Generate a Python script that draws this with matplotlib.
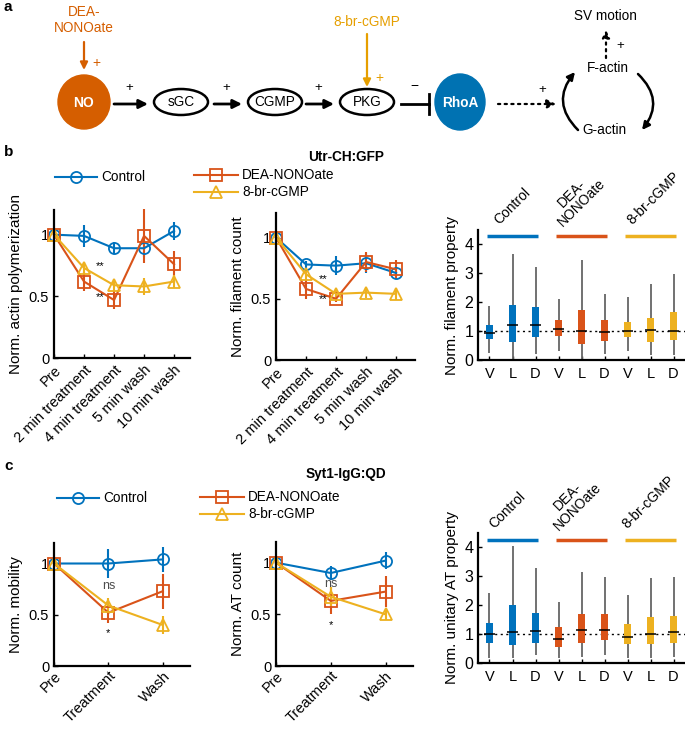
import numpy as np
import matplotlib
matplotlib.use("Agg")
import matplotlib.pyplot as plt
from matplotlib.patches import Ellipse

# =========================
# Data
# =========================
time_b = ["Pre", "2 min treatment", "4 min treatment", "5 min wash", "10 min wash"]
time_c = ["Pre", "Treatment", "Wash"]

# b, left: actin polymerization
actin_ctrl = [1.0, 0.99, 0.89, 0.89, 1.03]
actin_ctrl_err = [0.0, 0.09, 0.05, 0.07, 0.07]
actin_dea = [1.0, 0.62, 0.47, 0.99, 0.76]
actin_dea_err = [0.0, 0.075, 0.07, 0.22, 0.11]
actin_cgmp = [1.0, 0.73, 0.59, 0.58, 0.62]
actin_cgmp_err = [0.0, 0.05, 0.05, 0.07, 0.05]

# b, middle: filament count
fil_ctrl = [1.0, 0.78, 0.77, 0.79, 0.71]
fil_ctrl_err = [0.0, 0.03, 0.08, 0.08, 0.05]
fil_dea = [1.0, 0.58, 0.50, 0.80, 0.74]
fil_dea_err = [0.0, 0.08, 0.03, 0.08, 0.08]
fil_cgmp = [1.0, 0.70, 0.54, 0.55, 0.54]
fil_cgmp_err = [0.0, 0.05, 0.03, 0.04, 0.05]

# c, left: mobility
mob_ctrl = [1.0, 1.0, 1.04]
mob_ctrl_err = [0.0, 0.14, 0.12]
mob_dea = [1.0, 0.52, 0.73]
mob_dea_err = [0.0, 0.10, 0.17]
mob_cgmp = [1.0, 0.59, 0.40]
mob_cgmp_err = [0.0, 0.07, 0.09]

# c, middle: AT count
at_ctrl = [1.0, 0.90, 1.02]
at_ctrl_err = [0.0, 0.07, 0.08]
at_dea = [1.0, 0.63, 0.72]
at_dea_err = [0.0, 0.13, 0.15]
at_cgmp = [1.0, 0.67, 0.50]
at_cgmp_err = [0.0, 0.09, 0.05]

# box plots: whisker low, q1, median, q3, whisker high  (V, L, D per group)
box_labels = ["V", "L", "D"] * 3
groups = ["Control", "DEA-\nNONOate", "8-br-cGMP"]
fil_lo = [0.27, 0.03, 0.23, 0.34, 0.05, 0.23, 0.34, 0.19, 0.19]
fil_q1 = [0.75, 0.65, 0.82, 0.83, 0.58, 0.67, 0.80, 0.65, 0.71]
fil_med = [0.95, 1.23, 1.24, 1.08, 1.03, 0.99, 1.01, 1.06, 1.02]
fil_q3 = [1.21, 1.90, 1.83, 1.40, 1.75, 1.40, 1.33, 1.45, 1.66]
fil_hi = [1.89, 3.68, 3.23, 2.12, 3.48, 2.29, 2.20, 2.63, 2.97]

at_lo = [0.15, 0.15, 0.27, 0.16, 0.20, 0.25, 0.15, 0.15, 0.20]
at_q1 = [0.69, 0.61, 0.69, 0.56, 0.67, 0.78, 0.65, 0.64, 0.69]
at_med = [0.98, 1.05, 1.09, 0.81, 1.15, 1.15, 0.90, 1.00, 1.07]
at_q3 = [1.39, 2.00, 1.74, 1.24, 1.68, 1.68, 1.33, 1.60, 1.63]
at_hi = [2.43, 4.05, 3.30, 2.10, 3.14, 2.99, 2.35, 2.95, 2.99]

BLUE = "#0072BD"
ORANGE = "#D95319"
YELLOW = "#EDB120"
colors = [BLUE, ORANGE, YELLOW]

W, H = 685, 729
fig = plt.figure(figsize=(W / 100, H / 100), dpi=100)
plt.rcParams["font.family"] = ["Liberation Sans", "DejaVu Sans"]


def add_ax(left, top, right, bottom):
    return fig.add_axes([left / W, 1 - bottom / H, (right - left) / W, (bottom - top) / H])


def style_ax(ax):
    for s in ["top", "right"]:
        ax.spines[s].set_visible(False)
    for s in ["left", "bottom"]:
        ax.spines[s].set_linewidth(1.6)
    ax.tick_params(direction="in", length=3, width=1, labelsize=10.5)
    ax.patch.set_alpha(0)


def line_panel(ax, labels, series, ylabel, xfont=9.5):
    x = np.arange(len(labels))
    for (y, e), c, m in zip(series, colors, ["o", "s", "^"]):
        ax.errorbar(x, y, yerr=e, color=c, marker=m, ms=8, mfc="none", mew=1.3,
                    lw=1.5, elinewidth=1.5, capsize=0, clip_on=False)
    ax.set_ylim(0, 1.2)
    ax.set_yticks([0, 0.5, 1])
    ax.set_yticklabels(["0", "0.5", "1"])
    ax.set_xticks(x)
    ax.set_xticklabels(labels, rotation=45, ha="right", rotation_mode="anchor", fontsize=xfont)
    ax.set_ylabel(ylabel, fontsize=11)
    style_ax(ax)


def box_panel(ax, lo, q1, med, q3, hi, ylabel, line_y, text_pos):
    pos = np.arange(1, 10)
    cols = [c for c in colors for _ in range(3)]
    ax.axhline(1, ls=(0, (1.5, 2.5)), color="k", lw=1, zorder=1)
    ax.vlines(pos, lo, hi, color="0.4", lw=1.3, zorder=2)
    ax.bar(pos, np.array(q3) - np.array(q1), bottom=q1, width=0.32, color=cols, zorder=3)
    ax.hlines(med, pos - 0.25, pos + 0.25, color="k", lw=1.1, zorder=4)
    for g, (name, c) in enumerate(zip(groups, colors)):
        ax.plot([0.88 + 3 * g, 3.12 + 3 * g], [line_y, line_y], color=c, lw=2.5,
                solid_capstyle="butt", clip_on=False)
        ax.text(text_pos[g][0], text_pos[g][1], name, rotation=45, rotation_mode="anchor",
                ha="left", va="bottom", fontsize=10, multialignment="center", linespacing=1.0)
    ax.set_xlim(0.5, 9.5)
    ax.set_ylim(0, 4.5)
    ax.set_yticks([0, 1, 2, 3, 4])
    ax.set_xticks(pos)
    ax.set_xticklabels(box_labels, fontsize=11.5)
    ax.set_ylabel(ylabel, fontsize=11)
    style_ax(ax)
    ax.tick_params(axis="y", labelsize=11.5)
    ax.tick_params(axis="x", length=3, pad=5)


# =========================
# Panel b
# =========================
ax1 = add_ax(54, 210, 190, 358)
line_panel(ax1, time_b, [(actin_ctrl, actin_ctrl_err), (actin_dea, actin_dea_err),
                         (actin_cgmp, actin_cgmp_err)], "Norm. actin polymerization")
ax1.set_xlim(0, 4.53)
ax1.text(1.4, 0.72, "**", fontsize=8)
ax1.text(1.4, 0.47, "**", fontsize=8)

ax2 = add_ax(276, 213, 415, 360)
line_panel(ax2, time_b, [(fil_ctrl, fil_ctrl_err), (fil_dea, fil_dea_err),
                         (fil_cgmp, fil_cgmp_err)], "Norm. filament count")
ax2.set_xlim(0, 4.63)
ax2.text(1.42, 0.64, "**", fontsize=8)
ax2.text(1.42, 0.47, "**", fontsize=8)

ax3 = add_ax(478, 230, 685, 360.5)
box_panel(ax3, fil_lo, fil_q1, fil_med, fil_q3, fil_hi, "Norm. filament property",
          4.3, [(1.52, 4.59), (4.28, 4.52), (7.29, 4.59)])

# =========================
# Panel c
# =========================
ax4 = add_ax(54, 543, 190, 666)
line_panel(ax4, time_c, [(mob_ctrl, mob_ctrl_err), (mob_dea, mob_dea_err),
                         (mob_cgmp, mob_cgmp_err)], "Norm. mobility", xfont=9)
ax4.set_xlim(0, 2.5)
ax4.tick_params(axis="x", pad=2)
ax4.text(1, 0.75, "ns", fontsize=9, ha="center", color="0.3")
ax4.text(1, 0.29, "*", fontsize=8, ha="center")

ax5 = add_ax(276, 542, 413, 666)
line_panel(ax5, time_c, [(at_ctrl, at_ctrl_err), (at_dea, at_dea_err),
                         (at_cgmp, at_cgmp_err)], "Norm. AT count", xfont=9)
ax5.set_xlim(0, 2.5)
ax5.tick_params(axis="x", pad=2)
ax5.text(1, 0.76, "ns", fontsize=9, ha="center", color="0.3")
ax5.text(1, 0.37, "*", fontsize=8, ha="center")

ax6 = add_ax(478, 533, 685, 662.7)
box_panel(ax6, at_lo, at_q1, at_med, at_q3, at_hi, "Norm. unitary AT property",
          4.26, [(1.29, 4.55), (4.13, 4.49), (7.08, 4.55)])

# =========================
# Overlay: panel a diagram, legends, titles, panel letters (pixel coords)
# =========================
ov = fig.add_axes([0, 0, 1, 1])
ov.set_xlim(0, W)
ov.set_ylim(H, 0)
ov.axis("off")
ov.patch.set_alpha(0)

for letter, (lx, ly) in zip("abc", [(4, 7), (4, 152), (4, 466)]):
    ov.text(lx, ly, letter, fontsize=11, fontweight="bold", va="center")

# legends
for ly, lx0, title_y, title in [(177, 55, 157, "Utr-CH:GFP"), (498, 57, 474, "Syt1-IgG:QD")]:
    ov.plot([lx0, lx0 + 42], [ly, ly], color=BLUE, lw=1.5)
    ov.plot([lx0 + 21], [ly], marker="o", ms=8, mfc="none", mec=BLUE, mew=1.3)
    ov.text(lx0 + 46, ly, "Control", va="center", fontsize=9.8)
    ov.text(346, title_y, title, ha="center", va="center", fontsize=9.8, fontweight="bold")
for ly, lx0, name, c, m in [(175, 194, "DEA-NONOate", ORANGE, "s"), (192, 194, "8-br-cGMP", YELLOW, "^"),
                            (497, 200, "DEA-NONOate", ORANGE, "s"), (514, 200, "8-br-cGMP", YELLOW, "^")]:
    ov.plot([lx0, lx0 + 44], [ly, ly], color=c, lw=1.5)
    ov.plot([lx0 + 22], [ly], marker=m, ms=8, mfc="none", mec=c, mew=1.3)
    ov.text(lx0 + 48, ly, name, va="center", fontsize=9.8)

# panel a diagram
NO_C = "#D55E00"
RHO_C = "#0072B2"
CG_C = "#E69F00"
ROW = 102
arrow_kw = dict(arrowstyle="-|>", lw=2, color="k", mutation_scale=13, shrinkA=0, shrinkB=0)

ov.add_patch(Ellipse((84, ROW), 52, 54, color=NO_C))
ov.text(84, ROW + 1, "NO", color="white", fontweight="bold", ha="center", va="center", fontsize=10)
ov.text(84, 20, "DEA-\nNONOate", color=NO_C, ha="center", va="center", fontsize=9.8, linespacing=1.1)
ov.annotate("", xy=(84, 70), xytext=(84, 42),
            arrowprops=dict(arrowstyle="-|>", lw=1.6, color=NO_C, mutation_scale=11, shrinkA=0, shrinkB=0))
ov.text(96, 63, "+", color=NO_C, fontsize=10, ha="center", va="center")

for cx, name in [(181, "sGC"), (275, "CGMP"), (367, "PKG")]:
    ov.add_patch(Ellipse((cx, ROW), 54, 26, fill=False, lw=1.8, ec="k"))
    ov.text(cx, ROW, name, ha="center", va="center", fontsize=9.8)

for x0, x1 in [(114, 148), (214, 242), (306, 334)]:
    ov.annotate("", xy=(x1, ROW + 2), xytext=(x0, ROW + 2), arrowprops=arrow_kw)
    ov.text((x0 + x1) / 2 - 2, ROW - 14, "+", fontsize=9.5, ha="center", va="center")

ov.text(367, 22, "8-br-cGMP", color=CG_C, ha="center", va="center", fontsize=9.8)
ov.annotate("", xy=(367, ROW - 15), xytext=(367, 34),
            arrowprops=dict(arrowstyle="-|>", lw=1.6, color=CG_C, mutation_scale=11, shrinkA=0, shrinkB=0))
ov.text(379, ROW - 24, "+", color=CG_C, fontsize=10, ha="center", va="center")

ov.plot([401, 429], [ROW + 2, ROW + 2], color="k", lw=2)
ov.plot([429, 429], [ROW - 8, ROW + 12], color="k", lw=2)
ov.text(414, ROW - 16, "\u2212", fontsize=10, ha="center", va="center")

ov.add_patch(Ellipse((460, ROW), 50, 56, color=RHO_C))
ov.text(460, ROW + 1, "RhoA", color="white", fontweight="bold", ha="center", va="center", fontsize=9.8)

ov.annotate("", xy=(556, ROW + 2), xytext=(498, ROW + 2),
            arrowprops=dict(arrowstyle="-|>", lw=1.6, color="k", ls=(0, (1, 2)),
                            mutation_scale=13, shrinkA=0, shrinkB=0))
ov.text(542, ROW - 12, "+", fontsize=9.5, ha="center", va="center")

ov.text(608, 68, "F-actin", ha="center", va="center", fontsize=9.8)
ov.text(604, 130, "G-actin", ha="center", va="center", fontsize=9.8)
ov.text(605, 16, "SV motion", ha="center", va="center", fontsize=9.8)
ov.annotate("", xy=(575, 72), xytext=(578, 130),
            arrowprops=dict(arrowstyle="-|>", lw=1.8, color="k", mutation_scale=11,
                            connectionstyle="arc3,rad=-0.45", shrinkA=0, shrinkB=0))
ov.annotate("", xy=(642, 130), xytext=(638, 74),
            arrowprops=dict(arrowstyle="-|>", lw=1.8, color="k", mutation_scale=11,
                            connectionstyle="arc3,rad=-0.45", shrinkA=0, shrinkB=0))
ov.annotate("", xy=(606, 30), xytext=(606, 58),
            arrowprops=dict(arrowstyle="-|>", lw=1.6, color="k", ls=(0, (1, 2)),
                            mutation_scale=11, shrinkA=0, shrinkB=0))
ov.text(620, 46, "+", fontsize=9.5, ha="center", va="center")

fig.savefig("out.png", dpi=100)
